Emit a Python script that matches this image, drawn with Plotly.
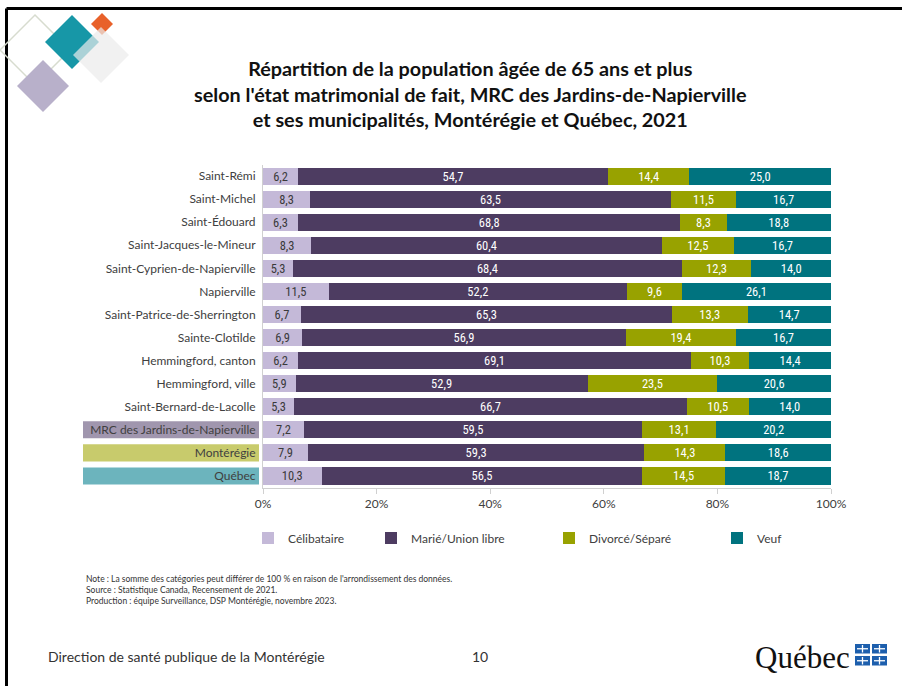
import plotly.graph_objects as go

W, H = 902, 686

categories = ["Saint-Rémi", "Saint-Michel", "Saint-Édouard", "Saint-Jacques-le-Mineur",
              "Saint-Cyprien-de-Napierville", "Napierville", "Saint-Patrice-de-Sherrington",
              "Sainte-Clotilde", "Hemmingford, canton", "Hemmingford, ville",
              "Saint-Bernard-de-Lacolle", "MRC des Jardins-de-Napierville", "Montérégie", "Québec"]
celibataire = [6.2, 8.3, 6.3, 8.3, 5.3, 11.5, 6.7, 6.9, 6.2, 5.9, 5.3, 7.2, 7.9, 10.3]
marie = [54.7, 63.5, 68.8, 60.4, 68.4, 52.2, 65.3, 56.9, 69.1, 52.9, 66.7, 59.5, 59.3, 56.5]
divorce = [14.4, 11.5, 8.3, 12.5, 12.3, 9.6, 13.3, 19.4, 10.3, 23.5, 10.5, 13.1, 14.3, 14.5]
veuf = [25.0, 16.7, 18.8, 16.7, 14.0, 26.1, 14.7, 16.7, 14.4, 20.6, 14.0, 20.2, 18.6, 18.7]
series_names = ["Célibataire", "Marié/Union libre", "Divorcé/Séparé", "Veuf"]
x_ticks = [0, 20, 40, 60, 80, 100]

colors = ["#c4b9d8", "#4d3c61", "#98a200", "#00737f"]
label_colors = ["#3a3a3a", "white", "white", "white"]
highlight = {"MRC des Jardins-de-Napierville": "#a096ae", "Montérégie": "#c8cb6c", "Québec": "#6cb4bd"}

def px(x):
    return x / W

def py(y):
    return 1 - y / H

LBL_FONT = "Liberation Sans Narrow, Roboto Condensed, Lato, sans-serif"
TXT_FONT = "Lato, Open Sans, sans-serif"

fig = go.Figure()
legend_x = [248, 371, 549, 717]
for i, (name, vals) in enumerate(zip(series_names, [celibataire, marie, divorce, veuf])):
    lg = "legend" if i == 0 else f"legend{i+1}"
    fig.add_trace(go.Bar(
        y=categories, x=vals, name=name, orientation="h",
        marker=dict(color=colors[i], line=dict(width=0)),
        text=[f"{v:.1f}".replace(".", ",") for v in vals], texttemplate="%{text}",
        textposition="inside", insidetextanchor="middle", textangle=0,
        textfont=dict(family=LBL_FONT, size=12.5, color=label_colors[i]),
        legend=lg, hoverinfo="skip",
    ))

legend_common = dict(orientation="h", yanchor="middle", xanchor="left",
                     font=dict(family=TXT_FONT, size=12, color="#404040"),
                     bgcolor="rgba(0,0,0,0)", itemwidth=30)
layout_legends = {}
for i, lx in enumerate(legend_x):
    key = "legend" if i == 0 else f"legend{i+1}"
    layout_legends[key] = dict(legend_common, x=px(lx), y=py(538))

shapes = []
# slide border
shapes.append(dict(type="line", xref="paper", yref="paper", x0=px(6.5), x1=1.0, y0=py(8.5), y1=py(8.5),
                   line=dict(color="black", width=3)))
shapes.append(dict(type="line", xref="paper", yref="paper", x0=px(6.5), x1=px(6.5), y0=py(8.5), y1=0,
                   line=dict(color="black", width=3)))

def diamond(cx, cy, r, fill, line=None, opacity=1.0):
    path = (f"M {px(cx)},{py(cy - r)} L {px(cx + r)},{py(cy)} "
            f"L {px(cx)},{py(cy + r)} L {px(cx - r)},{py(cy)} Z")
    d = dict(type="path", xref="paper", yref="paper", path=path, fillcolor=fill,
             opacity=opacity, line=dict(width=0) if line is None else line, layer="above")
    return d

shapes.append(diamond(35, 50, 35, "rgba(0,0,0,0)", line=dict(color="#d7dccf", width=1.5)))
shapes.append(diamond(43, 86, 26, "#b8b0ca"))
shapes.append(diamond(72, 42, 27, "#1797a7"))
shapes.append(diamond(102, 24, 11, "#e8612a"))
shapes.append(diamond(101, 55, 28, "#ebebeb", opacity=0.7))

# highlighted category label backgrounds
for cat, col in highlight.items():
    idx = categories.index(cat)
    shapes.append(dict(type="rect", xref="paper", yref="y", x0=px(83), x1=px(259),
                       y0=idx - 0.37, y1=idx + 0.37, fillcolor=col, line=dict(width=0), layer="below"))

# Québec flags
flag_x = [855, 872]
flag_y = [644, 656]
for fx in flag_x:
    for fy in flag_y:
        shapes.append(dict(type="rect", xref="paper", yref="paper", x0=px(fx), x1=px(fx + 15),
                           y0=py(fy), y1=py(fy + 9.5), fillcolor="#1d5fad", line=dict(width=0)))
        shapes.append(dict(type="line", xref="paper", yref="paper", x0=px(fx + 7.5), x1=px(fx + 7.5),
                           y0=py(fy + 1), y1=py(fy + 8.5), line=dict(color="white", width=1.3)))
        shapes.append(dict(type="line", xref="paper", yref="paper", x0=px(fx + 2), x1=px(fx + 13),
                           y0=py(fy + 4.75), y1=py(fy + 4.75), line=dict(color="white", width=1.3)))

annotations = [
    dict(text="<b>Répartition de la population âgée de 65 ans et plus<br>"
              "selon l'état matrimonial de fait, MRC des Jardins-de-Napierville<br>"
              "et ses municipalités, Montérégie et Québec, 2021</b>",
         x=px(470), y=py(93), xref="paper", yref="paper", showarrow=False,
         xanchor="center", yanchor="middle", align="center",
         font=dict(family=TXT_FONT, size=19.8, color="#111111")),
    dict(text="Note : La somme des catégories peut différer de 100 % en raison de l'arrondissement des données.<br>"
              "Source : Statistique Canada, Recensement de 2021.<br>"
              "Production : équipe Surveillance, DSP Montérégie, novembre 2023.",
         x=px(84), y=py(590), xref="paper", yref="paper", showarrow=False,
         xanchor="left", yanchor="middle", align="left",
         font=dict(family=TXT_FONT, size=8.5, color="#333333")),
    dict(text="Direction de santé publique de la Montérégie",
         x=px(46), y=py(656), xref="paper", yref="paper", showarrow=False,
         xanchor="left", yanchor="middle", font=dict(family=TXT_FONT, size=14, color="#333333")),
    dict(text="10", x=px(480), y=py(656), xref="paper", yref="paper", showarrow=False,
         xanchor="center", yanchor="middle", font=dict(family=TXT_FONT, size=14, color="#333333")),
    dict(text="Québec", x=px(753), y=py(657), xref="paper", yref="paper", showarrow=False,
         xanchor="left", yanchor="middle", font=dict(family="Liberation Serif, serif", size=31, color="#111111")),
]

fig.update_layout(
    width=W, height=H, margin=dict(l=0, r=0, t=0, b=0),
    paper_bgcolor="white", plot_bgcolor="white",
    barmode="stack", barnorm="percent", bargap=0.26, separators=", ",
    uniformtext=dict(mode="show", minsize=12.5),
    showlegend=True,
    shapes=shapes, annotations=annotations,
    xaxis=dict(domain=[px(263), px(831)], range=[0, 100], tickvals=x_ticks,
               ticktext=[f"{v}%" for v in x_ticks], showgrid=False, zeroline=False,
               showline=True, linecolor="#d0d0d0", linewidth=1, ticks="outside", ticklen=5,
               tickcolor="#d0d0d0", tickfont=dict(family=TXT_FONT, size=12, color="#404040"),
               automargin=False),
    yaxis=dict(domain=[py(487.5), py(164.5)], autorange="reversed", showgrid=False, zeroline=False,
               showline=True, linecolor="#d0d0d0", linewidth=1, ticks="",
               tickfont=dict(family=TXT_FONT, size=12, color="#404040"), automargin=False,
               ticklabelstandoff=4),
    **layout_legends,
)

fig.write_html("out.html", config={"displayModeBar": False},
               post_script="document.body.style.margin='0';")
